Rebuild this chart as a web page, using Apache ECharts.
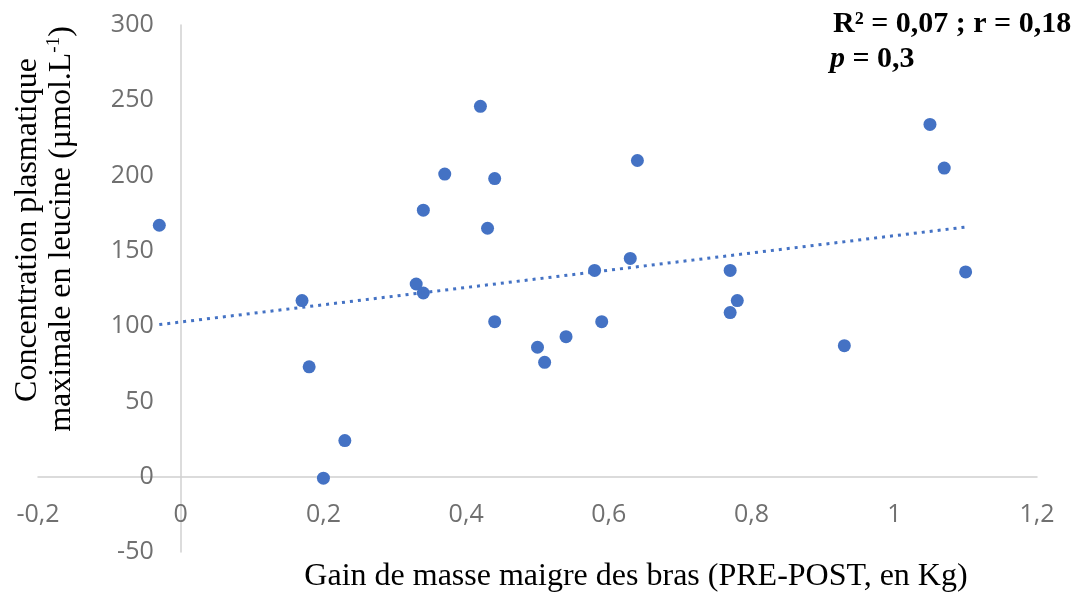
<!DOCTYPE html>
<html>
<head>
<meta charset="utf-8">
<script src="https://cdn.jsdelivr.net/npm/echarts@6/dist/echarts.min.js"></script>
<style>
html,body{margin:0;padding:0;background:#fff;}
#c{width:1077px;height:593px;}
</style>
</head>
<body>
<div id="c"></div>
<script>
// ---- data ----
const gainMasse = [-0.03, 0.17, 0.18, 0.20, 0.23, 0.33, 0.34, 0.34, 0.37, 0.42, 0.43, 0.44, 0.44, 0.50, 0.51, 0.54, 0.58, 0.59, 0.63, 0.64, 0.77, 0.77, 0.78, 0.93, 1.05, 1.07, 1.10];
const leucineMax = [167, 117, 73, -1, 24, 128, 122, 177, 201, 246, 165, 198, 103, 86, 76, 93, 137, 103, 145, 210, 137, 109, 117, 87, 234, 205, 136];
const xAxisRange = [-0.2, 1.2, 0.2];
const yAxisRange = [-50, 300, 50];
const xTitle = 'Gain de masse maigre des bras (PRE-POST, en Kg)';
const yTitle1 = 'Concentration plasmatique';
const yTitle2 = 'maximale en leucine (µmol.L';
const statLine1 = 'R² = 0,07 ; r = 0,18';
const statLine2 = ' = 0,3';

// ---- linear trend (least squares) ----
const n = gainMasse.length;
const mx = gainMasse.reduce((a, b) => a + b, 0) / n;
const my = leucineMax.reduce((a, b) => a + b, 0) / n;
let sxx = 0, sxy = 0;
for (let i = 0; i < n; i++) { sxx += (gainMasse[i] - mx) ** 2; sxy += (gainMasse[i] - mx) * (leucineMax[i] - my); }
const slope = sxy / sxx, intercept = my - slope * mx;
const xMin = Math.min(...gainMasse), xMax = Math.max(...gainMasse);
const trend = [[xMin, intercept + slope * xMin], [xMax, intercept + slope * xMax]];

const points = gainMasse.map((x, i) => [x, leucineMax[i]]);
const blue = '#4472C4';
const serif = '"Liberation Serif", "Times New Roman", serif';
const fmt = v => String(+(+v).toFixed(1)).replace('.', ',');

// layout of the plotting area
const W = 1077, H = 593;
const G = {left: 38, right: 40, top: 25, bottom: 41};
const gw = W - G.left - G.right, gh = H - G.top - G.bottom;
// axes cross at zero: shift them inside the grid
const xAxisOffset = -((0 - yAxisRange[0]) / (yAxisRange[1] - yAxisRange[0])) * gh;
const yAxisOffset = -((0 - xAxisRange[0]) / (xAxisRange[1] - xAxisRange[0])) * gw;

const chart = echarts.init(document.getElementById('c'), null, {renderer: 'canvas'});
chart.setOption({
  animation: false,
  backgroundColor: '#fff',
  grid: {left: G.left, right: G.right, top: G.top, bottom: G.bottom, containLabel: false, outerBoundsMode: 'none'},
  xAxis: {
    type: 'value', min: xAxisRange[0], max: xAxisRange[1], interval: xAxisRange[2],
    position: 'bottom', offset: xAxisOffset,
    splitLine: {show: false},
    axisTick: {show: false},
    axisLine: {show: true, onZero: false, lineStyle: {color: '#d0d0d0', width: 1.5}},
    axisLabel: {margin: 26, color: '#707070', fontSize: 25, fontFamily: '"Open Sans", sans-serif', formatter: fmt, showMinLabel: true, showMaxLabel: true}
  },
  yAxis: {
    type: 'value', min: yAxisRange[0], max: yAxisRange[1], interval: yAxisRange[2],
    position: 'left', offset: yAxisOffset,
    splitLine: {show: false},
    axisTick: {show: false},
    axisLine: {show: true, onZero: false, lineStyle: {color: '#d0d0d0', width: 1.5}},
    axisLabel: {margin: 27, color: '#707070', fontSize: 25, fontFamily: '"Open Sans", sans-serif', formatter: fmt}
  },
  series: [
    {
      type: 'scatter', data: points, symbol: 'circle', symbolSize: 13,
      itemStyle: {color: blue, opacity: 1}, z: 2
    },
    {
      type: 'line', data: trend, showSymbol: false, symbol: 'none',
      lineStyle: {color: blue, width: 3, type: [3, 5]}, z: 3, silent: true
    }
  ],
  graphic: [
    {
      type: 'text', left: 833, top: 9, z: 10,
      style: {text: statLine1, font: 'bold 30px ' + serif, fill: '#000'}
    },
    {
      type: 'text', left: 830, top: 44, z: 10,
      style: {
        text: '{i|p}{b|' + statLine2 + '}',
        rich: {
          i: {fontFamily: serif, fontSize: 30, fontWeight: 'bold', fontStyle: 'italic', color: '#000'},
          b: {fontFamily: serif, fontSize: 30, fontWeight: 'bold', color: '#000'}
        }
      }
    },
    {
      type: 'text', x: 28, y: 230, rotation: Math.PI / 2, z: 10,
      style: {text: yTitle1, font: '32px ' + serif, fill: '#000', align: 'center', verticalAlign: 'middle'}
    },
    {
      type: 'text', x: 62, y: 229, rotation: Math.PI / 2, z: 10,
      style: {
        text: '{n|' + yTitle2 + '}{s|-1}{n|)}',
        align: 'center', verticalAlign: 'middle',
        rich: {
          n: {fontFamily: serif, fontSize: 32, color: '#000', lineHeight: 34},
          s: {fontFamily: serif, fontSize: 19, color: '#000', verticalAlign: 'top', lineHeight: 34}
        }
      }
    },
    {
      type: 'text', x: 636, y: 577, z: 10,
      style: {text: xTitle, font: '32px ' + serif, fill: '#000', align: 'center', verticalAlign: 'middle'}
    }
  ]
});
</script>
</body>
</html>
